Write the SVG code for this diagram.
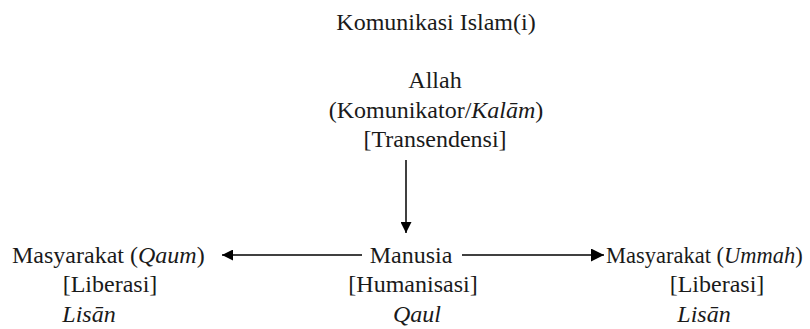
<svg xmlns="http://www.w3.org/2000/svg" width="810" height="329" viewBox="0 0 810 329">
  <style>
    .t { font-family: "Liberation Serif", "DejaVu Serif", serif; font-size: 24px; fill: #1a1a1a; }
    .c { text-anchor: middle; }
    .i { font-style: italic; }
    .edge { stroke: #000; stroke-width: 1.5; fill: none; }
  </style>
  <defs>
    <marker id="head" viewBox="0 0 10 10" refX="10" refY="5" markerWidth="11" markerHeight="11" markerUnits="userSpaceOnUse" orient="auto">
      <path d="M0,0 L10,5 L0,10 Z" fill="#000"/>
    </marker>
    <marker id="headWide" viewBox="0 0 10 10" refX="10" refY="5" markerWidth="13" markerHeight="13" markerUnits="userSpaceOnUse" orient="auto">
      <path d="M0,0 L10,5 L0,10 Z" fill="#000"/>
    </marker>
  </defs>

  <g id="title">
    <text class="t c" x="436" y="30">Komunikasi Islam(i)</text>
  </g>

  <g id="node-allah">
    <text class="t c" x="435" y="88">Allah</text>
    <text class="t c" x="436" y="118">(Komunikator/<tspan class="i">Kalām</tspan>)</text>
    <text class="t c" x="435" y="147">[Transendensi]</text>
  </g>

  <g id="node-manusia">
    <text class="t c" x="411" y="263">Manusia</text>
    <text class="t c" x="413" y="292">[Humanisasi]</text>
    <text class="t c i" x="417" y="322">Qaul</text>
  </g>

  <g id="node-qaum">
    <text class="t" x="12" y="263">Masyarakat (<tspan class="i">Qaum</tspan>)</text>
    <text class="t c" x="110" y="292">[Liberasi]</text>
    <text class="t c i" x="89" y="322">Lisān</text>
  </g>

  <g id="node-ummah">
    <text class="t" x="606" y="263" style="font-size:22.5px">Masyarakat (<tspan class="i">Ummah</tspan>)</text>
    <text class="t c" x="717" y="292">[Liberasi]</text>
    <text class="t c i" x="704" y="322">Lisān</text>
  </g>

  <g id="connectors">
    <line class="edge" x1="406" y1="160" x2="406" y2="233" marker-end="url(#head)"/>
    <line class="edge" x1="362" y1="255" x2="222" y2="255" marker-end="url(#head)"/>
    <line class="edge" x1="462" y1="255" x2="604" y2="255" stroke-width="2.2" marker-end="url(#headWide)"/>
  </g>
</svg>
